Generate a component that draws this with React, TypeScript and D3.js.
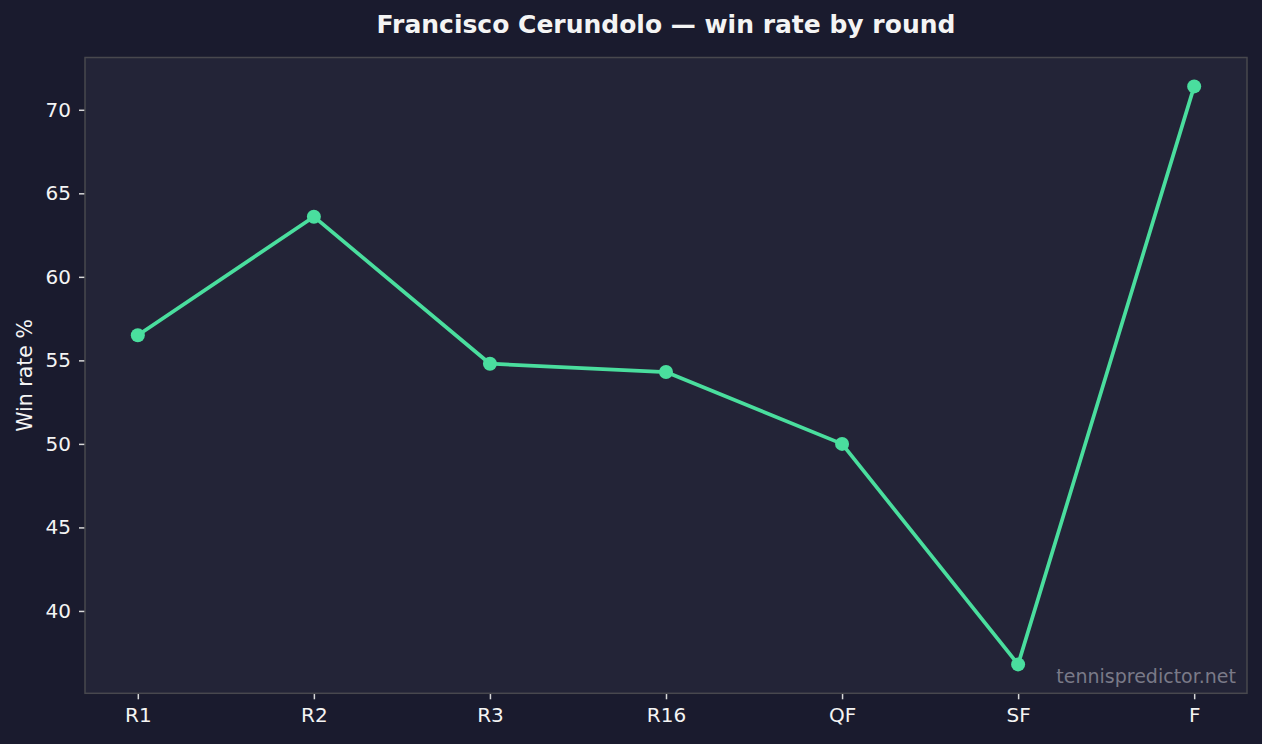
import React, { useEffect, useRef } from 'react';
import * as d3 from 'd3';

// rounds and win rate (%) per round
const rounds = ['R1', 'R2', 'R3', 'R16', 'QF', 'SF', 'F'];
const winRates = [56.5, 63.6, 54.8, 54.3, 50.0, 36.8, 71.4];
const yTickValues = [40, 45, 50, 55, 60, 65, 70];

const W = 1262;
const H = 744;
const margin = { top: 57.5, right: 15, bottom: 50.7, left: 85 };

const COLORS = {
  page: '#1a1b2e',
  panel: '#232437',
  frame: '#48484e',
  line: '#4ade9e',
  text: '#f4f4f4',
  tick: '#d8d8d8',
  watermark: '#7a7a88',
};

const FONT = '"DejaVu Sans", sans-serif';

const App: React.FC = () => {
  const svgRef = useRef<SVGSVGElement>(null);

  useEffect(() => {
    document.body.style.margin = '0';
    document.body.style.background = COLORS.page;
    if (!svgRef.current) return;

    const svg = d3.select(svgRef.current);
    svg.selectAll('*').remove();

    const innerW = W - margin.left - margin.right;
    const innerH = H - margin.top - margin.bottom;

    // matplotlib-like 5% margins
    const xSpan = rounds.length - 1;
    const x = d3
      .scaleLinear()
      .domain([-0.05 * xSpan, xSpan + 0.05 * xSpan])
      .range([0, innerW]);

    const yMin = d3.min(winRates) ?? 0;
    const yMax = d3.max(winRates) ?? 100;
    const yPad = (yMax - yMin) * 0.05;
    const y = d3
      .scaleLinear()
      .domain([yMin - yPad, yMax + yPad])
      .range([innerH, 0]);

    svg.append('rect').attr('width', W).attr('height', H).attr('fill', COLORS.page);

    // title
    svg
      .append('text')
      .attr('x', margin.left + innerW / 2)
      .attr('y', 33.3)
      .attr('text-anchor', 'middle')
      .attr('fill', COLORS.text)
      .style('font-family', FONT)
      .style('font-weight', 'bold')
      .style('font-size', '25px')
      .text('Francisco Cerundolo — win rate by round');

    const g = svg.append('g').attr('transform', `translate(${margin.left},${margin.top})`);

    g.append('rect').attr('width', innerW).attr('height', innerH).attr('fill', COLORS.panel);

    // y axis
    const yAxis = g.append('g').call(
      d3
        .axisLeft(y)
        .tickValues(yTickValues)
        .tickSize(6)
        .tickPadding(8)
        .tickFormat(d3.format('d')),
    );
    yAxis.select('.domain').remove();
    yAxis.selectAll('line').attr('stroke', COLORS.tick).attr('stroke-width', 1.5);
    yAxis
      .selectAll('text')
      .attr('fill', COLORS.text)
      .style('font-family', FONT)
      .style('font-size', '20px');

    // x axis
    const xAxis = g
      .append('g')
      .attr('transform', `translate(0,${innerH})`)
      .call(
        d3
          .axisBottom(x)
          .tickValues(d3.range(rounds.length))
          .tickSize(6)
          .tickPadding(9)
          .tickFormat((d) => rounds[Number(d)]),
      );
    xAxis.select('.domain').remove();
    xAxis.selectAll('line').attr('stroke', COLORS.tick).attr('stroke-width', 1.5);
    xAxis
      .selectAll('text')
      .attr('fill', COLORS.text)
      .style('font-family', FONT)
      .style('font-size', '20px');

    // y label
    g.append('text')
      .attr('transform', `translate(${24.5 - margin.left},${innerH / 2}) rotate(-90)`)
      .attr('text-anchor', 'middle')
      .attr('dominant-baseline', 'central')
      .attr('fill', COLORS.text)
      .style('font-family', FONT)
      .style('font-size', '20.5px')
      .text('Win rate %');

    // line + markers
    const line = d3
      .line<number>()
      .x((_, i) => x(i))
      .y((d) => y(d));

    g.append('path')
      .datum(winRates)
      .attr('d', line)
      .attr('fill', 'none')
      .attr('stroke', COLORS.line)
      .attr('stroke-width', 3.7)
      .attr('stroke-linejoin', 'round')
      .attr('stroke-linecap', 'round');

    g.selectAll('.pt')
      .data(winRates)
      .enter()
      .append('circle')
      .attr('class', 'pt')
      .attr('cx', (_, i) => x(i))
      .attr('cy', (d) => y(d))
      .attr('r', 7)
      .attr('fill', COLORS.line);

    // watermark
    g.append('text')
      .attr('x', innerW - 11)
      .attr('y', innerH - 10.5)
      .attr('text-anchor', 'end')
      .attr('fill', COLORS.watermark)
      .style('font-family', FONT)
      .style('font-size', '19px')
      .text('tennispredictor.net');

    // frame
    g.append('rect')
      .attr('width', innerW)
      .attr('height', innerH)
      .attr('fill', 'none')
      .attr('stroke', COLORS.frame)
      .attr('stroke-width', 1.5);
  }, []);

  return (
    <svg
      ref={svgRef}
      width={W}
      height={H}
      style={{ position: 'absolute', top: 0, left: 0, display: 'block' }}
    />
  );
};

export default App;
